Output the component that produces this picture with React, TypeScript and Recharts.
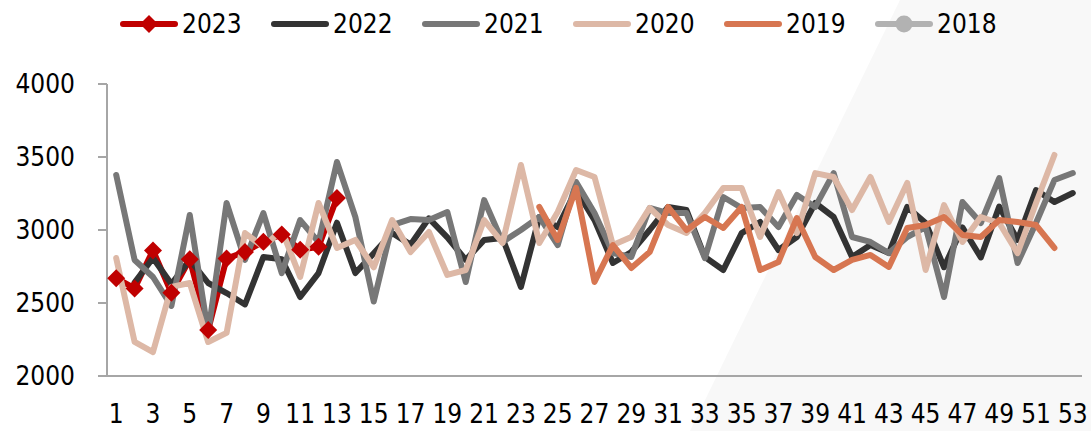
import { LineChart, Line, XAxis, YAxis } from 'recharts';

const weeks = [
  1, 2, 3, 4, 5, 6, 7, 8, 9, 10, 11, 12, 13, 14, 15, 16, 17, 18, 19, 20,
  21, 22, 23, 24, 25, 26, 27, 28, 29, 30, 31, 32, 33, 34, 35, 36, 37, 38, 39, 40,
  41, 42, 43, 44, 45, 46, 47, 48, 49, 50, 51, 52, 53,
];

const weekLabels = [1, 3, 5, 7, 9, 11, 13, 15, 17, 19, 21, 23, 25, 27, 29, 31, 33, 35, 37, 39, 41, 43, 45, 47, 49, 51, 53];
const yTicks = [2000, 2500, 3000, 3500, 4000];

const y2023 = [2670, 2600, 2860, 2570, 2800, 2315, 2805, 2850, 2920, 2970, 2865, 2885, 3220];

const y2022 = [
  null, 2640, 2808, 2630, 2795, 2637, 2568, 2490, 2815, 2800, 2541, 2705, 3050, 2705, 2840, 2979,
  2900, 3080, 2950, 2795, 2932, 2945, 2610, 3089, 3020, 3274, 3068, 2774, 2849, 3000, 3158, 3137,
  2815, 2726, 2979, 3055, 2863, 2952, 3185, 3089, 2815, 2897, 2842, 3158, 3048, 2745, 3018, 2812,
  3160, 2932, 3274, 3192, 3253,
];

const y2021 = [
  3377, 2795, 2678, 2480, 3103, 2295, 3185, 2795, 3116, 2705, 3068, 2918, 3466, 3089, 2510, 3034,
  3075, 3068, 3123, 2644, 3205, 2918, 3000, 3090, 2897, 3329, 3116, 2842, 2815, 3151, 3116, 3116,
  2808, 3226, 3151, 3158, 3020, 3240, 3158, 3390, 2952, 2918, 2842, 2952, 3020, 2541, 3192, 3048,
  3356, 2774, 3048, 3342, 3390,
];

const y2020 = [
  2808, 2233, 2164, 2610, 2637, 2233, 2295, 2979, 2884, 3000, 2678, 3185, 2877, 2932, 2744, 3068,
  2849, 2986, 2692, 2726, 3068, 2911, 3445, 2911, 3123, 3411, 3363, 2897, 2952, 3151, 3034, 2979,
  3116, 3288, 3288, 2952, 3260, 2979, 3390, 3363, 3137, 3363, 3055, 3322, 2726, 3171, 2918, 3089,
  3048, 2842, 3185, 3514,
];

// 2019 starts at week 24
const start2019 = 24;
const y2019 = [
  3158, 2932, 3288, 2644, 2897, 2740, 2849, 3158, 3000, 3089, 3014, 3158, 2726, 2781, 3082, 2815,
  2726, 2795, 2829, 2747, 3014, 3034, 3089, 2966, 2952, 3068, 3055, 3034, 2877,
];

const y2018: (number | null)[] = [];

const series = [
  { key: 'y2023', name: '2023', color: '#C00000', marker: 'diamond' },
  { key: 'y2022', name: '2022', color: '#333333', marker: '' },
  { key: 'y2021', name: '2021', color: '#777777', marker: '' },
  { key: 'y2020', name: '2020', color: '#DDB8A6', marker: '' },
  { key: 'y2019', name: '2019', color: '#D77651', marker: '' },
  { key: 'y2018', name: '2018', color: '#B2B2B2', marker: 'circle' },
];

const data = weeks.map((w, i) => ({
  week: w,
  y2023: y2023[i] ?? null,
  y2022: y2022[i] ?? null,
  y2021: y2021[i] ?? null,
  y2020: y2020[i] ?? null,
  y2019: w >= start2019 ? y2019[w - start2019] ?? null : null,
  y2018: y2018[i] ?? null,
}));

const boundaryTicks = [...weeks.map((w) => w - 0.5), weeks[weeks.length - 1] + 0.5];

const FONT = '"DejaVu Sans Condensed", "DejaVu Sans", sans-serif';
const AXIS = '#A6A6A6';

const Diamond = (props: any) => {
  const { cx, cy, value, index } = props;
  if (cx == null || cy == null || value == null) return <g key={index} />;
  const r = 9;
  return (
    <polygon
      key={index}
      points={`${cx},${cy - r} ${cx + r},${cy} ${cx},${cy + r} ${cx - r},${cy}`}
      fill="#C00000"
    />
  );
};

function LegendIcon({ color, marker }: { color: string; marker: string }) {
  return (
    <svg width={58} height={30} style={{ display: 'block' }}>
      <line x1={3} y1={15} x2={55} y2={15} stroke={color} strokeWidth={6} strokeLinecap="round" />
      {marker === 'diamond' && <polygon points="29,6 38,15 29,24 20,15" fill={color} />}
      {marker === 'circle' && <circle cx={29} cy={15} r={8.5} fill={color} />}
    </svg>
  );
}

export default function App() {
  return (
    <div style={{ position: 'absolute', left: 0, top: 0, width: 1091, height: 431, background: '#fff', overflow: 'hidden' }}>
      <svg width={1091} height={431} style={{ position: 'absolute', left: 0, top: 0 }}>
        <polygon points="900,0 1091,0 1091,431 690,431" fill="#F8F8F8" />
      </svg>
      <div
        style={{
          position: 'absolute',
          left: 120,
          top: 9,
          display: 'flex',
          fontFamily: FONT,
          fontSize: 26,
          color: '#000',
        }}
      >
        {series.map((s) => (
          <div key={s.key} style={{ display: 'flex', alignItems: 'center', width: 151 }}>
            <LegendIcon color={s.color} marker={s.marker} />
            <span style={{ marginLeft: 4, lineHeight: '30px' }}>{s.name}</span>
          </div>
        ))}
      </div>
      <div style={{ position: 'absolute', left: 0, top: 0 }}>
        <LineChart
          width={1091}
          height={431}
          data={data}
          margin={{ top: 84, right: 9, left: 0, bottom: 0 }}
          style={{ fontFamily: FONT }}
        >
          <XAxis
            xAxisId="grid"
            type="number"
            dataKey="week"
            domain={[0.5, 53.5]}
            ticks={boundaryTicks}
            interval={0}
            tick={false}
            tickSize={9}
            height={12}
            axisLine={{ stroke: AXIS, strokeWidth: 2 }}
            tickLine={{ stroke: AXIS, strokeWidth: 2 }}
          />
          <XAxis
            xAxisId="weeks"
            type="number"
            dataKey="week"
            domain={[0.5, 53.5]}
            ticks={weekLabels}
            interval={0}
            axisLine={false}
            tickLine={false}
            tickSize={0}
            tickMargin={17}
            height={43}
            tick={{ fill: '#000', fontSize: 26, fontFamily: FONT }}
          />
          <YAxis
            domain={[2000, 4000]}
            ticks={yTicks}
            interval={0}
            width={107}
            tickSize={9}
            tickMargin={23}
            axisLine={{ stroke: AXIS, strokeWidth: 2 }}
            tickLine={{ stroke: AXIS, strokeWidth: 2 }}
            tick={{ fill: '#000', fontSize: 26, fontFamily: FONT }}
          />
          {series.map((s) => (
            <Line
              key={s.key}
              xAxisId="weeks"
              type="linear"
              dataKey={s.key}
              name={s.name}
              stroke={s.color}
              strokeWidth={6}
              strokeLinejoin="round"
              strokeLinecap="round"
              dot={s.marker === 'diamond' ? (p: any) => <Diamond key={p.index} {...p} /> : false}
              activeDot={false}
              isAnimationActive={false}
            />
          ))}
        </LineChart>
      </div>
    </div>
  );
}
